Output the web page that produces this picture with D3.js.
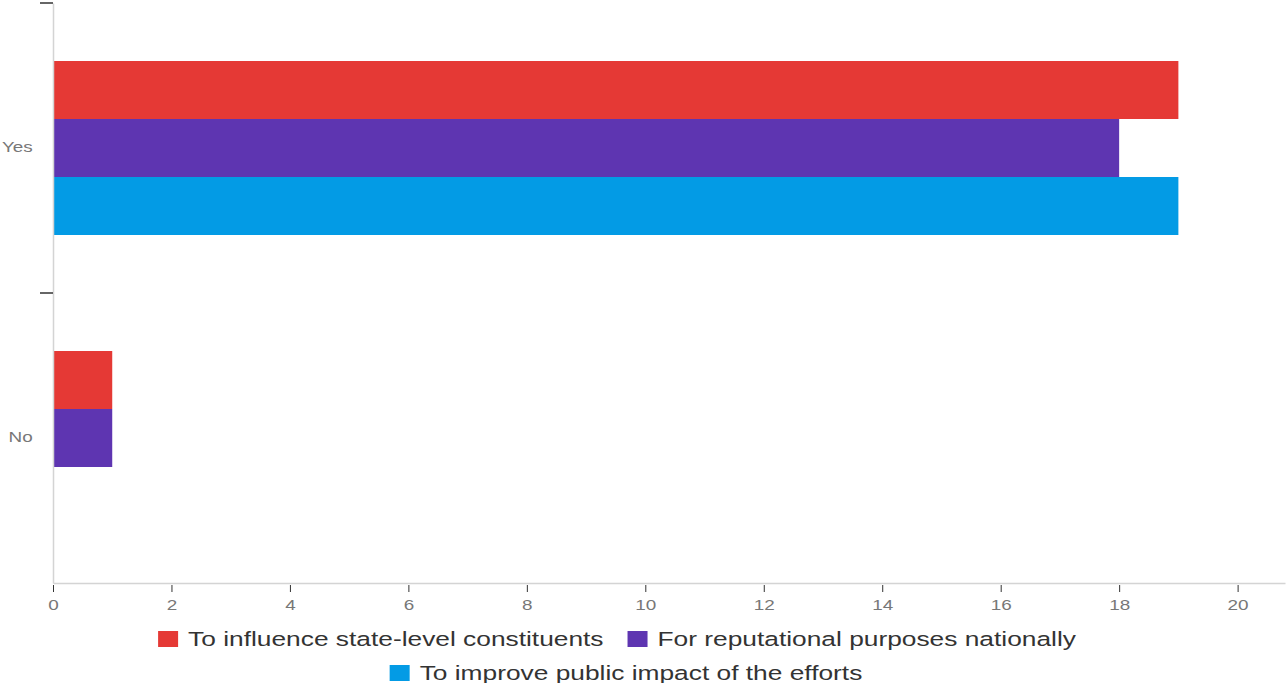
<!DOCTYPE html>
<html>
<head>
<meta charset="utf-8">
<script src="https://cdn.jsdelivr.net/npm/d3@7"></script>
<style>
  body { margin: 0; background: #fff; }
  svg { display: block; font-family: "Liberation Sans", Arial, sans-serif; }
</style>
</head>
<body>
<div id="chart"></div>
<script>
var categories = ["Yes", "No"];
var seriesNames = [
  "To influence state-level constituents",
  "For reputational purposes nationally",
  "To improve public impact of the efforts"
];
var seriesColors = ["#e53935", "#5e35b1", "#039be5"];
var values = [
  [19, 1],   // state-level
  [18, 1],   // reputational
  [19, 0]    // public impact
];
var xTicks = [0, 2, 4, 6, 8, 10, 12, 14, 16, 18, 20];
var legendRows = [[0, 1], [2]];

var W = 1288, H = 683;
var sx = 1.35; // text in the reference is stretched horizontally
var margin = {top: 3, right: 3, bottom: 100, left: 53};
var width = W - margin.left - margin.right,
    height = H - margin.top - margin.bottom;

var svg = d3.select("#chart").append("svg")
    .attr("width", W).attr("height", H);
var g = svg.append("g")
    .attr("transform", "translate(" + margin.left + "," + margin.top + ")");

var x = d3.scaleLinear().domain([0, 20.8]).range([0, width]);
var y = d3.scaleBand().domain(categories).range([0, height])
    .paddingInner(0.4).paddingOuter(0.2);
var ySub = d3.scaleBand().domain(d3.range(seriesNames.length)).range([0, y.bandwidth()]);

// bars
categories.forEach(function(c, ci) {
  g.append("g")
    .attr("transform", "translate(0," + y(c) + ")")
    .selectAll("rect")
    .data(seriesNames.map(function(s, si) { return {si: si, v: values[si][ci]}; }))
    .enter().append("rect")
    .attr("x", x(0))
    .attr("y", function(d) { return ySub(d.si); })
    .attr("width", function(d) { return x(d.v) - x(0); })
    .attr("height", ySub.bandwidth())
    .attr("fill", function(d) { return seriesColors[d.si]; });
});

// x axis
var xa = g.append("g")
    .attr("transform", "translate(0," + height + ")")
    .call(d3.axisBottom(x).tickValues(xTicks).tickSize(9).tickPadding(8).tickSizeOuter(0));
xa.select(".domain").attr("stroke", "#d4d4d4").attr("stroke-width", 1.5);
xa.selectAll(".tick line").attr("stroke", "#333").attr("y1", 2);
xa.selectAll(".tick text")
    .attr("fill", "#777").attr("font-size", 14)
    .attr("transform", "scale(" + sx + ",1)");

// y axis
var ya = g.append("g").call(d3.axisLeft(y).tickSize(0).tickPadding(15));
ya.select(".domain").attr("stroke", "#d4d4d4").attr("stroke-width", 1.5);
ya.selectAll(".tick text")
    .attr("fill", "#777").attr("font-size", 14)
    .attr("transform", "scale(" + sx + ",1)");

// boundary ticks between bands
var bounds = categories.map(function(c) { return y(c) - y.step() * y.paddingInner() / 2; });
g.selectAll(".btick").data(bounds).enter().append("line")
    .attr("x1", -13).attr("x2", 0)
    .attr("y1", function(d) { return d; }).attr("y2", function(d) { return d; })
    .attr("stroke", "#333").attr("stroke-width", 1.5);

// legend
var rowY = [639, 673];
var rowCenter = [617, 626];
legendRows.forEach(function(row, ri) {
  var lg = svg.append("g");
  var cursor = 0;
  row.forEach(function(si) {
    var it = lg.append("g");
    it.append("rect").attr("x", 0).attr("y", -8).attr("width", 20).attr("height", 16)
      .attr("fill", seriesColors[si]);
    var t = it.append("text").attr("transform", "translate(30,0) scale(" + sx + ",1)")
      .attr("dy", "0.35em").attr("font-size", 19.5).attr("fill", "#333")
      .text(seriesNames[si]);
    var w = 30 + t.node().getComputedTextLength() * sx;
    it.attr("transform", "translate(" + cursor + ",0)");
    cursor += w + 24;
  });
  var total = cursor - 24;
  lg.attr("transform", "translate(" + (rowCenter[ri] - total / 2) + "," + rowY[ri] + ")");
});
</script>
</body>
</html>
